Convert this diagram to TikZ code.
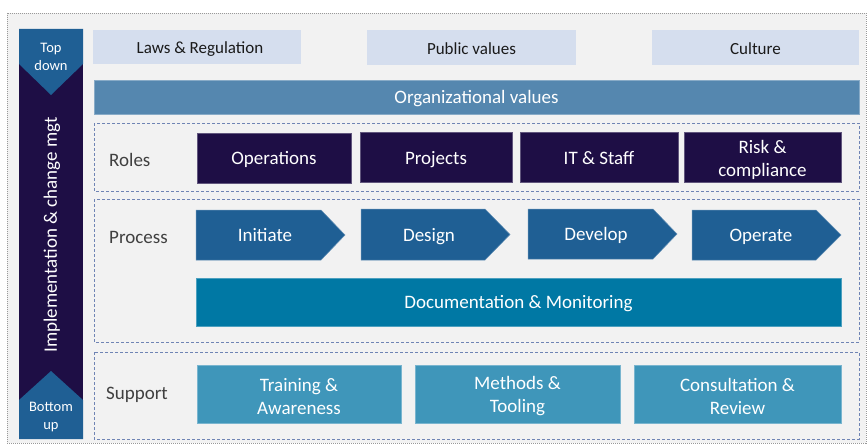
\documentclass[tikz,border=0pt]{standalone}
\usepackage{fontspec}
\setmainfont{Carlito}
\definecolor{pagebg}{HTML}{F2F2F2}
\definecolor{navy}{HTML}{1E0E45}
\definecolor{arrowblue}{HTML}{1F5F94}
\definecolor{lightbox}{HTML}{D5DEEE}
\definecolor{orgblue}{HTML}{5587AF}
\definecolor{docblue}{HTML}{0078A4}
\definecolor{supblue}{HTML}{3F96BA}
\definecolor{dashcol}{HTML}{6F84B4}
\definecolor{lbltext}{HTML}{404040}
\definecolor{darktext}{HTML}{1A1A1A}
% raises the first line of a two-line label so the block sits slightly lower
\newcommand{\firststrut}{\rule{0pt}{17.5pt}}
\newcommand{\smallstrut}{\rule{0pt}{13.5pt}}
\tikzset{
  box/.style={inner sep=0pt, align=center, text=white, font=\fontsize{19}{23}\selectfont},
  oneline/.style={text height=14pt, text depth=1pt},
  topbox/.style={box, fill=lightbox, text=darktext, font=\fontsize{17}{20}\selectfont,
    text height=15pt, text depth=1pt},
  orgbox/.style={box, fill=orgblue, draw=orgblue!70!white, line width=0.5pt},
  rolebox/.style={box, fill=navy, draw=navy!70!white, line width=0.5pt},
  docbox/.style={box, fill=docblue, draw=docblue!70!white, line width=0.5pt},
  supbox/.style={box, fill=supblue, draw=supblue!70!white, line width=0.5pt},
  chevshape/.style={fill=arrowblue, draw=arrowblue!70!white, line width=0.5pt},
  chevtext/.style={inner sep=0pt, oneline, text=white, font=\fontsize{19}{23}\selectfont},
  layer/.style={draw=dashcol, line width=0.9pt, dash pattern=on 3pt off 2pt},
  sidelabel/.style={anchor=west, inner sep=0pt, text=lbltext, font=\fontsize{19}{23}\selectfont},
  smalltext/.style={inner sep=0pt, align=center, text=white, font=\fontsize{14.5}{18}\selectfont},
}
\begin{document}
\begin{tikzpicture}[x=1pt, y=-1pt]
\useasboundingbox (0,0) rectangle (868,444);
\fill[white] (0,0) rectangle (868,444);
% outer frame
\draw[fill=pagebg, draw=gray!80, line width=0.6pt, dash pattern=on 1pt off 1pt] (7,13) rectangle (866,443);

% vertical implementation bar
\fill[navy] (19,29) rectangle (83,439);
\fill[arrowblue] (19,29) -- (83,29) -- (83,64) -- (51,95) -- (19,64) -- cycle;
\fill[arrowblue] (19,439) -- (83,439) -- (83,400) -- (51,371) -- (19,400) -- cycle;
\node[smalltext] (topdown) at (51,55) {\smallstrut Top\\down};
\node[smalltext] (bottomup) at (51,415) {\smallstrut Bottom\\up};
\node[box, rotate=90] (impl) at (52,235) {Implementation \& change mgt};

% context row
\node[topbox, minimum width=208pt, minimum height=34pt] (laws) at (197,47) {\hspace{6pt}Laws \& Regulation};
\node[topbox, minimum width=209pt, minimum height=35pt] (public) at (471.5,47.5) {Public values};
\node[topbox, minimum width=207pt, minimum height=35pt] (culture) at (755.5,48) {Culture};
\node[orgbox, oneline, minimum width=765pt, minimum height=34pt] (org) at (476.5,97) {Organizational values};

% roles layer
\draw[layer] (94,123) rectangle (859,191);
\node[sidelabel, oneline] (roles) at (109,160) {Roles};
\node[rolebox, oneline, minimum width=154pt, minimum height=50pt] (ops) at (274,158) {Operations};
\node[rolebox, oneline, minimum width=152pt, minimum height=50pt] (proj) at (436,157.5) {Projects};
\node[rolebox, oneline, minimum width=158pt, minimum height=50pt] (itstaff) at (599,157.5) {IT \& Staff};
\node[rolebox, minimum width=157pt, minimum height=50pt] (risk) at (762.5,157.5) {\firststrut Risk \&\\compliance};

% process layer
\draw[layer] (94,199) rectangle (859,342);
\node[sidelabel, oneline] (process) at (109,237) {Process};
\draw[chevshape] (196,210) -- (321,210) -- (345,235) -- (321,260) -- (196,260) -- cycle;
\node[chevtext] (initiate) at (265,235) {Initiate};
\draw[chevshape] (361,209) -- (485,209) -- (510,234.5) -- (485,260) -- (361,260) -- cycle;
\node[chevtext] (design) at (429,234.5) {Design};
\draw[chevshape] (528,209) -- (653,209) -- (677,234) -- (653,259) -- (528,259) -- cycle;
\node[chevtext] (develop) at (596,234) {Develop};
\draw[chevshape] (692,210) -- (816,210) -- (841,235) -- (816,260) -- (692,260) -- cycle;
\node[chevtext] (operate) at (761,235) {Operate};
\node[docbox, oneline, minimum width=645pt, minimum height=48pt] (doc) at (518.5,302) {Documentation \& Monitoring};

% support layer
\draw[layer] (94,352) rectangle (859,439);
\node[sidelabel, oneline] (support) at (106,393) {Support};
\node[supbox, minimum width=204pt, minimum height=58pt] (training) at (299,394) {\firststrut Training \&\\Awareness};
\node[supbox, minimum width=205pt, minimum height=58pt] (methods) at (517.5,394) {\firststrut Methods \&\\Tooling};
\node[supbox, minimum width=207pt, minimum height=58pt] (consult) at (737.5,394) {\firststrut Consultation \&\\Review};
\end{tikzpicture}
\end{document}
